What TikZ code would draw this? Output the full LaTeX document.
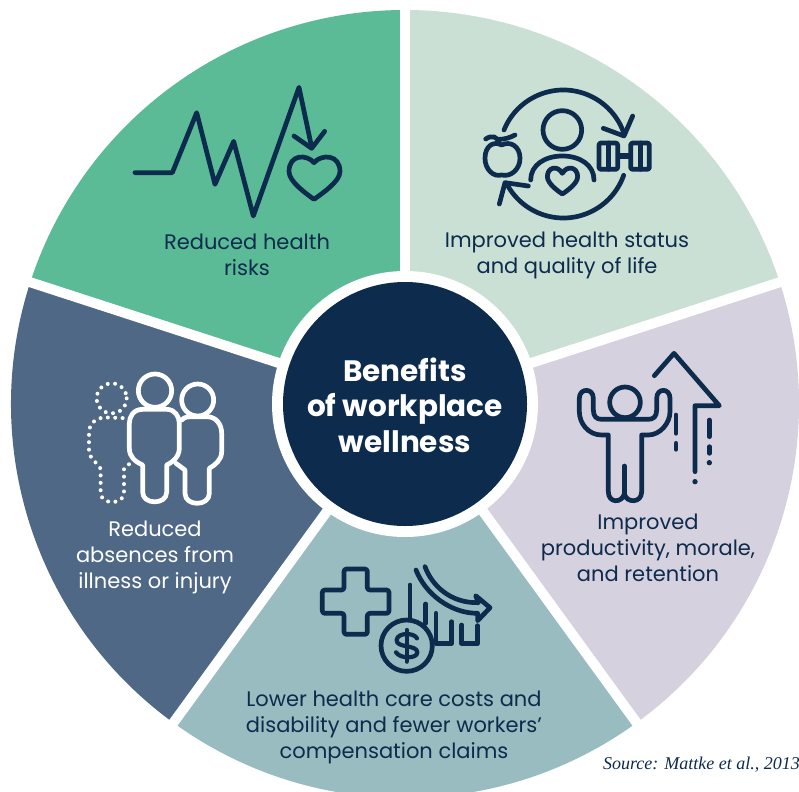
\documentclass[tikz,border=0pt]{standalone}
\usepackage{fontspec}
\setmainfont{Poppins}
\newfontfamily\srcfont{Liberation Serif}
\definecolor{navy}{HTML}{0D2B4C}
\definecolor{wgreen}{HTML}{5BBB97}
\definecolor{wmint}{HTML}{CAE0D5}
\definecolor{wlilac}{HTML}{D6D1DE}
\definecolor{wteal}{HTML}{98BCC0}
\definecolor{wslate}{HTML}{4E6885}
\tikzset{
  icon/.style={line width=4.7pt,line cap=round,line join=round,draw=navy},
  whiteicon/.style={line width=4.7pt,line cap=round,line join=round,draw=white},
  dotline/.style={line width=4pt,line cap=round,draw=white,dash pattern=on 0pt off 7.4pt},
  label/.style={text=navy,align=center,font=\fontsize{21}{26}\selectfont},
  labelw/.style={text=white,align=center,font=\fontsize{21}{26}\selectfont},
  gap/.style={draw=white,line width=10pt},
  zoomed/.style={x=0.33333pt,y=-0.33333pt}
}
\newcommand{\wedgefill}[3]{\fill[#1] (c) -- ($(c)+(#2:394)$) arc[start angle=#2,end angle=#3,radius=394] -- cycle;}
\usetikzlibrary{calc}
\begin{document}
\begin{tikzpicture}[x=1pt,y=-1pt]
\useasboundingbox (0,0) rectangle (799,791);
\coordinate (c) at (405,404);
\wedgefill{wgreen}{-162}{-90}
\wedgefill{wmint}{-90}{-18}
\wedgefill{wlilac}{-18}{54}
\wedgefill{wteal}{54}{126}
\wedgefill{wslate}{126}{198}
\foreach \a in {-90,-18,54,126,198} \draw[gap] (c) -- ($(c)+(\a:400)$);
\node[circle,fill=white,minimum size=266pt,inner sep=0pt] (ring) at (c) {};
\node[circle,fill=navy,minimum size=244pt,inner sep=0pt] (hub) at (c) {};
\node[text=white,align=center,font=\fontsize{29.5}{35.5}\selectfont\bfseries] (title) at (405,405) {Benefits\\of workplace\\wellness};
\node[label] (t1) at (247,255) {Reduced health\\risks};
\node[label] (t2) at (567,255) {Improved health status\\and quality of life};
\node[label] (t3) at (648,548) {Improved\\productivity, morale,\\and retention};
\node[label] (t4) at (394,727) {Lower health care costs and\\disability and fewer workers’\\compensation claims};
\node[labelw] (t5) at (155,557) {Reduced\\absences from\\illness or injury};
\node[text=navy,font=\srcfont\itshape\fontsize{18}{20}\selectfont,anchor=east,inner sep=0pt] (src) at (800,765) {Source: Mattke et al., 2013};
% icon 1
\begin{scope}[shift={(120,70)},zoomed]
\draw[icon] (45,308) -- (157,308) -- (230,128) -- (285,343) -- (341,214) -- (400,438) -- (537,52) -- (575,232);
\draw[icon] (522,198) -- (575,235) -- (614,184);
\draw[icon] (582,278) .. controls (560,252) and (507,252) .. (507,305) .. controls (507,335) and (560,372) .. (582,388) .. controls (604,372) and (660,335) .. (660,305) .. controls (660,252) and (604,252) .. (582,278) -- cycle;
\end{scope}
% icon 2
\begin{scope}[shift={(470,80)},zoomed]
\draw[icon] (280,222) ++(202:192) arc[start angle=202,end angle=342,radius=192];
\draw[icon] (280,222) ++(19.5:192) arc[start angle=19.5,end angle=153,radius=192];
\draw[icon] (400,145) -- (462,168) -- (488,108);
\draw[icon] (175,318) -- (105,308) -- (88,372);
\draw[icon] (277,150) circle[radius=58];
\draw[icon] (182,300) .. controls (182,255) and (225,228) .. (277,228) .. controls (330,228) and (372,255) .. (372,300);
\draw[icon] (277,280) .. controls (262,254) and (232,262) .. (232,290) .. controls (232,310) and (262,332) .. (277,342) .. controls (292,332) and (323,310) .. (323,290) .. controls (323,262) and (292,254) .. (277,280) -- cycle;
\draw[icon] (95,195) .. controls (70,182) and (45,198) .. (45,235) .. controls (45,268) and (70,292) .. (95,285) .. controls (122,292) and (150,268) .. (150,235) .. controls (150,198) and (120,182) .. (95,195) -- cycle;
\draw[icon] (47,177) .. controls (65,165) and (82,168) .. (88,190);
\draw[icon] (88,178) .. controls (105,178) and (122,172) .. (135,165);
\draw[icon,rounded corners=2pt] (387,189) rectangle (443,268);
\draw[icon,rounded corners=2pt] (482,189) rectangle (538,268);
\draw[icon] (415,189) -- (415,268);
\draw[icon] (511,189) -- (511,268);
\draw[icon,line width=6pt,line cap=butt] (443,228) -- (482,228);
\end{scope}
% icon 3
\begin{scope}[shift={(560,340)},zoomed]
\draw[icon] (283,107) -- (342,40) -- (478,197) -- (405,197) -- (405,395);
\draw[icon] (348,225) -- (348,280);
\draw[icon] (348,310) -- (348,328);
\draw[icon] (448,240) -- (448,290);
\draw[icon] (448,320) -- (448,340);
\fill[navy] (405,425) circle[radius=8];
\fill[navy] (448,368) circle[radius=8];
\draw[icon] (195,187) circle[radius=46];
\draw[icon] (193,378) -- (193,462);
\draw[icon] (193,462) .. controls (185,490) and (145,490) .. (145,455) -- (145,285) -- (125,285) .. controls (85,285) and (58,250) .. (58,215) -- (58,175) .. controls (58,143) and (100,143) .. (100,175) -- (100,210) .. controls (100,230) and (110,238) .. (125,238) -- (265,238) .. controls (280,238) and (290,230) .. (290,210) -- (290,175) .. controls (290,143) and (330,143) .. (330,175) -- (330,215) .. controls (330,250) and (300,285) .. (265,285) -- (245,285) -- (245,455) .. controls (245,490) and (200,490) .. (193,462);
\end{scope}
% icon 4
\begin{scope}[shift={(310,555)},zoomed]
\draw[icon,rounded corners=2.5pt] (102,42) -- (172,42) -- (172,105) -- (237,105) -- (237,175) -- (172,175) -- (172,238) -- (102,238) -- (102,175) -- (37,175) -- (37,105) -- (102,105) -- cycle;
\draw[icon] (300,90) -- (300,192);
\draw[icon] (347,147) -- (347,205);
\draw[icon] (290,272) circle[radius=77];
\draw[icon] (378,175) -- (378,265) -- (425,265) -- (425,200);
\draw[icon] (455,210) -- (455,265) -- (503,265) -- (503,212);
\draw[icon] (345,35) .. controls (365,90) and (420,145) .. (505,143) -- (497,122) -- (540,158) -- (503,197) -- (503,175) .. controls (420,175) and (345,115) .. (318,45);
\draw[icon,line width=4.2pt] (321,250) .. controls (312,232) and (262,232) .. (260,255) .. controls (258,280) and (322,268) .. (322,292) .. controls (322,312) and (270,312) .. (258,292);
\draw[icon,line width=4.2pt] (290,225) -- (290,320);
\end{scope}
% icon 5
\begin{scope}[shift={(70,365)},zoomed]
\draw[dotline] (125,100) circle[radius=45];
\draw[dotline] (180,160) -- (100,157) .. controls (60,165) and (57,190) .. (57,210) -- (57,260) .. controls (60,285) and (92,300) .. (92,315) -- (92,385) .. controls (95,420) and (160,420) .. (162,385) -- (162,310) .. controls (165,305) and (172,300) .. (182,295);
\draw[whiteicon] (255,77) circle[radius=50];
\draw[whiteicon] (383,105) circle[radius=48];
\draw[whiteicon] (218,133) -- (290,133) .. controls (315,133) and (328,155) .. (328,175) -- (328,250) .. controls (328,280) and (300,295) .. (290,300) -- (290,382) .. controls (290,420) and (218,420) .. (218,382) -- (218,300) .. controls (195,290) and (178,275) .. (178,250) -- (178,175) .. controls (178,155) and (190,133) .. (218,133) -- cycle;
\draw[whiteicon] (335,165) .. controls (345,155) and (355,155) .. (365,155) -- (410,155) .. controls (440,155) and (455,180) .. (455,205) -- (455,260) .. controls (455,285) and (435,300) .. (418,310) -- (418,385) .. controls (418,425) and (345,425) .. (345,385) -- (345,315) -- (318,295);
\end{scope}
\end{tikzpicture}
\end{document}
